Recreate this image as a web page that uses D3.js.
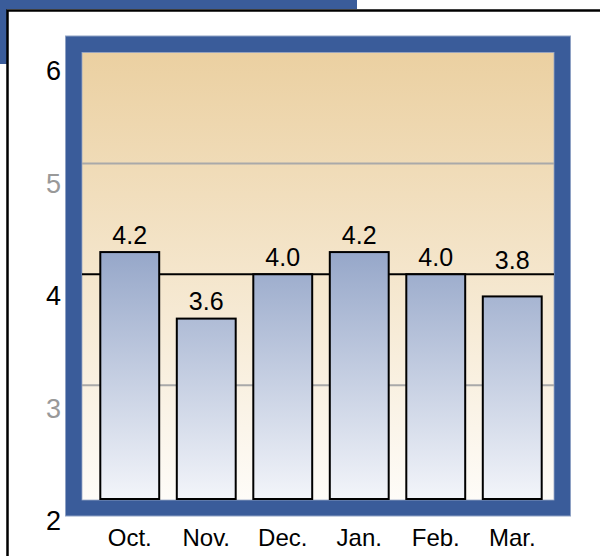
<!DOCTYPE html>
<html><head><meta charset="utf-8">
<script src="https://cdn.jsdelivr.net/npm/d3@7"></script>
<style>html,body{margin:0;padding:0;background:#fff;}svg{display:block;}</style>
</head><body>
<script>
const categories = ["Oct.", "Nov.", "Dec.", "Jan.", "Feb.", "Mar."];
const values = [4.2, 3.6, 4.0, 4.2, 4.0, 3.8];
const valueLabels = ["4.2", "3.6", "4.0", "4.2", "4.0", "3.8"];
const yTicks = [2, 3, 4, 5, 6];
const yTickLabels = ["2", "3", "4", "5", "6"];
const gridValues = [3, 5];
const refValue = 4;

const W = 600, H = 556;
const svg = d3.select("body").append("svg").attr("width", W).attr("height", H);
const font = "'Liberation Sans', Arial, Helvetica, sans-serif";

// decorations
svg.append("rect").attr("x", 0).attr("y", 0).attr("width", 357).attr("height", 9).attr("fill", "#3a5c9a");
svg.append("rect").attr("x", 0).attr("y", 0).attr("width", 7).attr("height", 64).attr("fill", "#3a5c9a");
svg.append("path").attr("d", "M7.5,556 V10.5 H600").attr("fill", "none").attr("stroke", "#000").attr("stroke-width", 2.5);

const inner = {x0: 82, x1: 554, y0: 52.5, y1: 500};
// blue frame
svg.append("rect").attr("x", 65.5).attr("y", 36).attr("width", 505).attr("height", 480)
  .attr("fill", "#3a5c9a").attr("stroke", "#8ea1c4").attr("stroke-width", 1);

const defs = svg.append("defs");
const bg = defs.append("linearGradient").attr("id", "bg").attr("x1", 0).attr("y1", 0).attr("x2", 0).attr("y2", 1);
bg.append("stop").attr("offset", "0%").attr("stop-color", "#ebd0a1");
bg.append("stop").attr("offset", "100%").attr("stop-color", "#fefcf8");

svg.append("rect").attr("x", inner.x0).attr("y", inner.y0).attr("width", inner.x1 - inner.x0).attr("height", inner.y1 - inner.y0)
  .attr("fill", "url(#bg)").attr("stroke", "#9aa9c6").attr("stroke-width", 0.8);

const x = d3.scaleBand().domain(categories).range([85, 557]).paddingInner(0.23).paddingOuter(0.2);
const y = d3.scaleLinear().domain([2, 6]).range([496, 52.5]);
const yLab = d3.scaleLinear().domain([2, 6]).range([521, 71]);

const bargrad = defs.append("linearGradient").attr("id", "bar").attr("gradientUnits", "userSpaceOnUse")
  .attr("x1", 0).attr("x2", 0).attr("y1", y(d3.max(values))).attr("y2", inner.y1);
bargrad.append("stop").attr("offset", "0%").attr("stop-color", "#96a7c9");
bargrad.append("stop").attr("offset", "100%").attr("stop-color", "#f3f5fa");

// gridlines
svg.append("g").selectAll("line").data(gridValues).join("line")
  .attr("x1", inner.x0).attr("x2", inner.x1).attr("y1", d => y(d)).attr("y2", d => y(d))
  .attr("stroke", "#a9a9a9").attr("stroke-width", 2);
svg.append("line").attr("x1", inner.x0).attr("x2", inner.x1).attr("y1", y(refValue)).attr("y2", y(refValue))
  .attr("stroke", "#000").attr("stroke-width", 2);

// bars
svg.append("g").selectAll("rect").data(values).join("rect")
  .attr("x", (d, i) => x(categories[i])).attr("width", x.bandwidth())
  .attr("y", d => y(d)).attr("height", d => 499 - y(d))
  .attr("fill", "url(#bar)").attr("stroke", "#000").attr("stroke-width", 2);

// value labels
svg.append("g").selectAll("text").data(values).join("text")
  .attr("x", (d, i) => x(categories[i]) + x.bandwidth() / 2)
  .attr("y", d => {
    let yy = y(d) - 8.5;
    if (yy - 17 < y(refValue) && y(d) > y(refValue)) yy = y(refValue) - 5;
    return yy;
  })
  .attr("text-anchor", "middle").attr("font-family", font).attr("font-size", 25).attr("fill", "#000")
  .text((d, i) => valueLabels[i]);

// y axis labels
const yAxis = d3.axisLeft(yLab).tickValues(yTicks).tickFormat((d, i) => yTickLabels[i]).tickSize(0).tickPadding(0);
const ga = svg.append("g").attr("transform", "translate(61,0)").call(yAxis);
ga.select(".domain").remove();
ga.selectAll("text").attr("font-family", font).attr("font-size", 27)
  .attr("fill", d => (d % 2 === 0 ? "#000" : "#999"));

// x axis labels
const xAxis = d3.axisBottom(x).tickSize(0).tickPadding(0);
const gx = svg.append("g").attr("transform", "translate(0,529)").call(xAxis);
gx.select(".domain").remove();
gx.selectAll("text").attr("font-family", font).attr("font-size", 24).attr("fill", "#000");
</script>
</body></html>
